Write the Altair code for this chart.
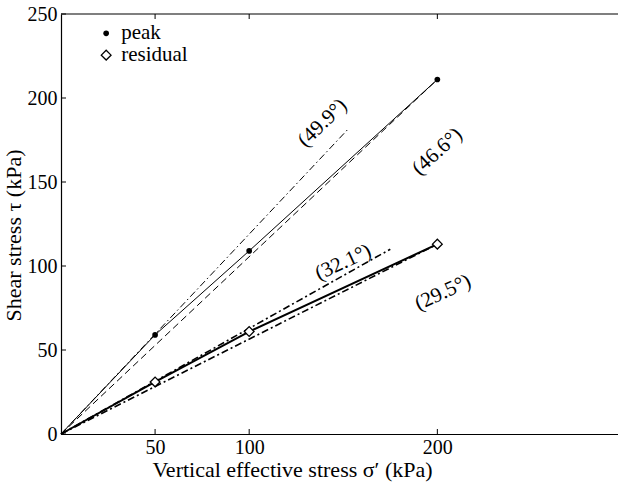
import altair as alt
import pandas as pd

# ---- data ----
pt_x = [50, 100, 200]
peak_y = [59, 109, 211]
res_y = [31, 61, 113]

peak_line_x = [0, 50, 100, 200]
peak_line_y = [0, 59, 109, 211]
res_line_x = [0, 50, 100, 200]
res_line_y = [0, 31, 61, 113]

# fitted envelopes (start / end points)
fit_names = ["49.9", "46.6", "32.1", "29.5"]
fit_x_end = [153, 200, 175, 200]
fit_y_end = [182, 211, 110, 113]

ann_text = ["(49.9°)", "(46.6°)", "(32.1°)", "(29.5°)"]
ann_x = [139, 200, 150, 203]
ann_y = [185, 168, 102, 84]
ann_angle = [316, 318, 335, 335]

x_ticks = [50, 100, 200]
y_ticks = [0, 50, 100, 150, 200, 250]
top_ticks = [50, 100, 200]

legend_labels = ["peak", "residual"]
legend_x = [24, 24]
legend_y = [238.5, 225.5]
legend_text_x = [32, 32]

W, H = 557, 420
FONT = "Liberation Serif"
TXT = 21

xs = alt.Scale(domain=[0, 296], nice=False, zero=False)
ys = alt.Scale(domain=[0, 250], nice=False, zero=False)

x_axis = alt.Axis(values=x_ticks, ticks=False, grid=False, domainColor="black",
                  domainWidth=1.2, labelFont=FONT, labelFontSize=20, labelColor="black",
                  labelPadding=3, title="Vertical effective stress σ′ (kPa)",
                  titleFont=FONT, titleFontSize=22, titleFontWeight="normal",
                  titleColor="black", titleX=231, titleY=25, titleBaseline="top")
y_axis = alt.Axis(values=y_ticks, ticks=False, grid=False, domainColor="black",
                  domainWidth=1.2, labelFont=FONT, labelFontSize=20, labelColor="black",
                  labelPadding=4, title="Shear stress τ (kPa)",
                  titleFont=FONT, titleFontSize=22, titleFontWeight="normal",
                  titleColor="black", titleY=221, titleX=-36, titleBaseline="bottom")


def X(f="x"):
    return alt.X(f"{f}:Q", scale=xs, axis=x_axis)


def Y(f="y"):
    return alt.Y(f"{f}:Q", scale=ys, axis=y_axis)


frame_top = alt.Chart(pd.DataFrame({"a": [0]})).mark_rule(color="black", strokeWidth=1.2).encode(
    x=alt.value(0), x2=alt.value(W), y=alt.value(0))

xt = alt.Chart(pd.DataFrame({"x": x_ticks})).mark_rule(color="black", strokeWidth=1).encode(
    x=X(), y=alt.value(H), y2=alt.value(H - 5))
tt = alt.Chart(pd.DataFrame({"x": top_ticks})).mark_rule(color="black", strokeWidth=1).encode(
    x=X(), y=alt.value(0), y2=alt.value(5))
yt = alt.Chart(pd.DataFrame({"y": y_ticks})).mark_rule(color="black", strokeWidth=1).encode(
    y=Y(), x=alt.value(0), x2=alt.value(5))

peak_df = pd.DataFrame({"x": peak_line_x, "y": peak_line_y, "o": range(4)})
res_df = pd.DataFrame({"x": res_line_x, "y": res_line_y, "o": range(4)})

peak_line = alt.Chart(peak_df).mark_line(color="black", strokeWidth=1).encode(
    x=X(), y=Y(), order="o:Q")
res_line = alt.Chart(res_df).mark_line(color="black", strokeWidth=2).encode(
    x=X(), y=Y(), order="o:Q")

fit_layers = []
styles = {
    "49.9": dict(strokeDash=[7, 3, 1.5, 3], strokeWidth=1),
    "46.6": dict(strokeDash=[7, 4], strokeWidth=1),
    "32.1": dict(strokeDash=[7, 3, 2, 3], strokeWidth=1.6),
    "29.5": dict(strokeDash=[7, 3, 2, 3], strokeWidth=1.6),
}
for n, xe, ye in zip(fit_names, fit_x_end, fit_y_end):
    d = pd.DataFrame({"x": [0, xe], "y": [0, ye]})
    fit_layers.append(alt.Chart(d).mark_line(color="black", **styles[n]).encode(x=X(), y=Y()))

peak_pts = alt.Chart(pd.DataFrame({"x": pt_x, "y": peak_y})).mark_point(
    shape="circle", filled=True, color="black", size=32, opacity=1).encode(x=X(), y=Y())
res_pts = alt.Chart(pd.DataFrame({"x": pt_x, "y": res_y})).mark_point(
    shape="diamond", filled=True, fill="white", stroke="black", strokeWidth=1.3, size=95,
    opacity=1).encode(x=X(), y=Y())

ann_df = pd.DataFrame({"t": ann_text, "x": ann_x, "y": ann_y})
anns = []
for i in range(len(ann_text)):
    anns.append(alt.Chart(ann_df.iloc[[i]]).mark_text(
        font=FONT, fontSize=TXT, color="black", angle=ann_angle[i]).encode(
        x=X(), y=Y(), text="t:N"))

leg_peak = alt.Chart(pd.DataFrame({"x": legend_x[:1], "y": legend_y[:1]})).mark_point(
    shape="circle", filled=True, color="black", size=32, opacity=1).encode(x=X(), y=Y())
leg_res = alt.Chart(pd.DataFrame({"x": legend_x[1:], "y": legend_y[1:]})).mark_point(
    shape="diamond", filled=True, fill="white", stroke="black", strokeWidth=1.3, size=95,
    opacity=1).encode(x=X(), y=Y())
leg_txt = alt.Chart(pd.DataFrame({"x": legend_text_x, "y": legend_y, "t": legend_labels})).mark_text(
    font=FONT, fontSize=TXT, color="black", align="left", baseline="middle").encode(
    x=X(), y=Y(), text="t:N")

chart = alt.layer(
    frame_top, xt, tt, yt, *fit_layers, peak_line, res_line, peak_pts, res_pts,
    *anns, leg_peak, leg_res, leg_txt
).properties(
    width=W, height=H,
    padding={"left": 61, "top": 14, "right": 0, "bottom": 55},
    autosize=alt.AutoSizeParams(type="none"),
    background="white",
).configure_view(stroke=None)

chart.save("out.html", embed_options={"renderer": "svg", "actions": False})
